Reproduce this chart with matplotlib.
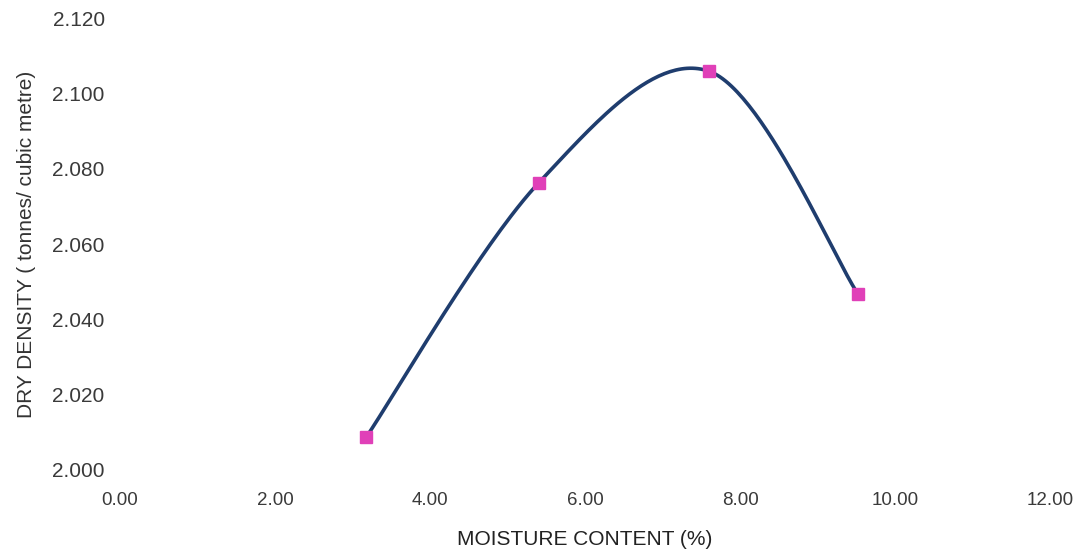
import numpy as np
import matplotlib.pyplot as plt

moisture = [3.18, 5.40, 7.60, 9.52]
density = [2.0088, 2.0762, 2.1059, 2.0468]

x_ticks = [0, 2, 4, 6, 8, 10, 12]
y_ticks = [2.000, 2.020, 2.040, 2.060, 2.080, 2.100, 2.120]


def smooth(xs, ys, n=60):
    # excel-style smoothed line (catmull-rom bezier)
    p = np.column_stack([xs, ys])
    p = np.vstack([p[0], p, p[-1]])
    out = []
    for i in range(1, len(p) - 2):
        p0, p1, p2, p3 = p[i - 1], p[i], p[i + 1], p[i + 2]
        c1 = p1 + (p2 - p0) / 6
        c2 = p2 - (p3 - p1) / 6
        t = np.linspace(0, 1, n)[:, None]
        seg = ((1 - t) ** 3) * p1 + 3 * ((1 - t) ** 2) * t * c1 + 3 * (1 - t) * t ** 2 * c2 + t ** 3 * p2
        out.append(seg)
    out = np.vstack(out)
    return out[:, 0], out[:, 1]


plt.rcParams['font.family'] = ['Liberation Sans', 'DejaVu Sans']

fig = plt.figure(figsize=(10.74, 5.5), dpi=100)
ax = fig.add_axes([0.1117, 0.1455, 0.8660, 0.8215])

sx, sy = smooth(moisture, density)
ax.plot(sx, sy, color='#1f3d6e', lw=2.6, solid_capstyle='round')
ax.plot(moisture, density, ls='none', marker='s', ms=9, color='#e040b8',
        markeredgecolor='#e040b8')

ax.set_xlim(0, 12)
ax.set_ylim(2.000, 2.120)
ax.set_xticks(x_ticks)
ax.set_yticks(y_ticks)
ax.set_xticklabels([f'{v:.2f}' for v in x_ticks])
ax.set_yticklabels([f'{v:.3f}' for v in y_ticks])
ax.tick_params(length=0, colors='#3a3a3a')
ax.tick_params(axis='x', pad=16, labelsize=13.5)
ax.tick_params(axis='y', pad=11, labelsize=15)
for s in ax.spines.values():
    s.set_visible(False)

ax.set_xlabel('MOISTURE CONTENT (%)', fontsize=15, color='#222222', labelpad=15)
ax.set_ylabel('DRY DENSITY ( tonnes/ cubic metre)', fontsize=15, color='#333333', labelpad=12)

plt.savefig('out.png', dpi=100)
